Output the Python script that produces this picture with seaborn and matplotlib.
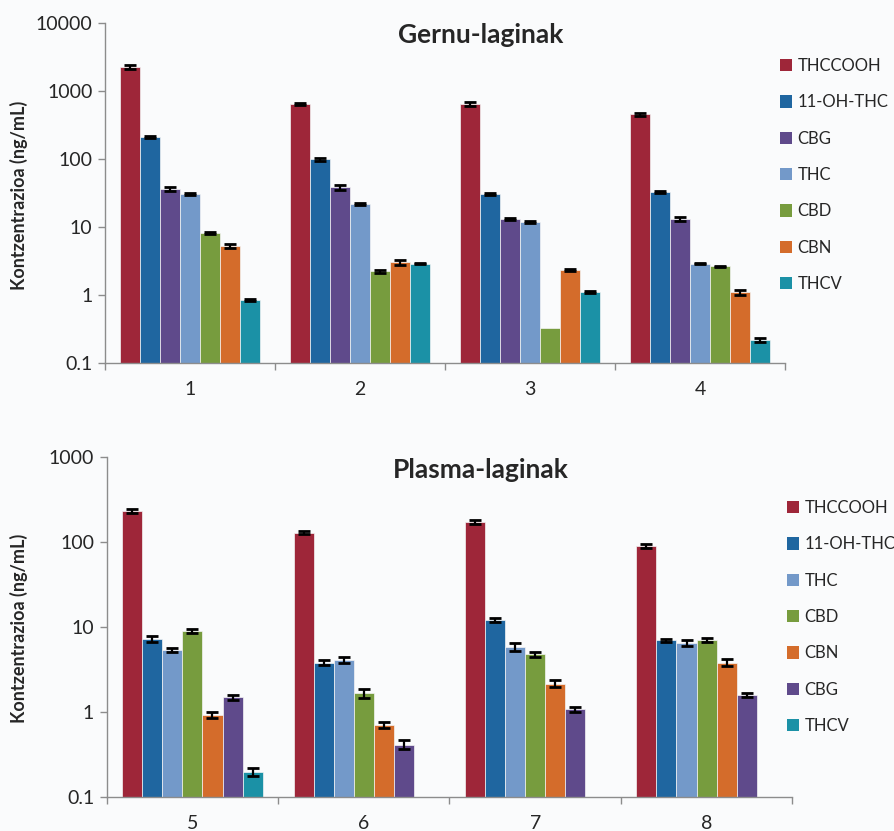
import numpy as np
import pandas as pd
import matplotlib
matplotlib.use("Agg")
import matplotlib.pyplot as plt
import seaborn as sns
from matplotlib.patches import Patch
from matplotlib.ticker import FixedLocator, NullLocator, FixedFormatter

# ---------------- data ----------------
urine_samples = ["1", "2", "3", "4"]
urine_compounds = ["THCCOOH", "11-OH-THC", "CBG", "THC", "CBD", "CBN", "THCV"]
urine_values = {
    "THCCOOH":   [2280, 650, 650, 456],
    "11-OH-THC": [212, 98, 30.6, 32.7],
    "CBG":       [36.6, 38, 13.1, 13.2],
    "THC":       [30.6, 22, 11.7, 2.87],
    "CBD":       [8.1, 2.2, 0.32, 2.61],
    "CBN":       [5.3, 3.0, 2.31, 1.08],
    "THCV":      [0.84, 2.87, 1.10, 0.217],
}
urine_errors = {
    "THCCOOH":   [150, 25, 45, 25],
    "11-OH-THC": [8, 6, 1.0, 0.8],
    "CBG":       [2.5, 3, 0.4, 0.9],
    "THC":       [1.2, 0.8, 0.4, 0.05],
    "CBD":       [0.3, 0.12, 0.0, 0.08],
    "CBN":       [0.35, 0.3, 0.07, 0.08],
    "THCV":      [0.02, 0.08, 0.04, 0.012],
}

plasma_samples = ["5", "6", "7", "8"]
plasma_compounds = ["THCCOOH", "11-OH-THC", "THC", "CBD", "CBN", "CBG", "THCV"]
plasma_values = {
    "THCCOOH":   [228, 128, 171, 89],
    "11-OH-THC": [7.2, 3.77, 12.0, 6.9],
    "THC":       [5.3, 4.06, 5.8, 6.4],
    "CBD":       [8.9, 1.65, 4.73, 7.0],
    "CBN":       [0.91, 0.70, 2.13, 3.77],
    "CBG":       [1.49, 0.41, 1.07, 1.57],
    "THCV":      [0.195, np.nan, np.nan, np.nan],
}
plasma_errors = {
    "THCCOOH":   [12, 5, 10, 5],
    "11-OH-THC": [0.6, 0.25, 0.6, 0.3],
    "THC":       [0.3, 0.3, 0.6, 0.5],
    "CBD":       [0.4, 0.2, 0.3, 0.4],
    "CBN":       [0.07, 0.06, 0.2, 0.35],
    "CBG":       [0.1, 0.05, 0.07, 0.08],
    "THCV":      [0.022, np.nan, np.nan, np.nan],
}

colors = {
    "THCCOOH":   "#9e2639",
    "11-OH-THC": "#1f66a0",
    "CBG":       "#5f4a8b",
    "THC":       "#7399c9",
    "CBD":       "#779c3e",
    "CBN":       "#d46c2b",
    "THCV":      "#1b91a6",
}

BG = "#fafbfc"
sns.set_theme(style="white")
plt.rcParams["font.family"] = ["Lato", "DejaVu Sans"]

fig = plt.figure(figsize=(8.95, 8.31), dpi=100, facecolor=BG)


def make_df(samples, compounds, values, errors):
    rows = []
    for c in compounds:
        for i, s in enumerate(samples):
            v = values[c][i]
            if not np.isnan(v):
                rows.append({"sample": s, "compound": c, "value": v, "err": errors[c][i]})
    return pd.DataFrame(rows)


def draw(ax, samples, compounds, values, errors, ylim, title, title_y, ylabel_y, legend_xy):
    df = make_df(samples, compounds, values, errors)
    sns.barplot(data=df, x="sample", y="value", hue="compound", order=samples,
                hue_order=compounds, palette=colors, width=0.82, ax=ax,
                errorbar=None, saturation=1, edgecolor="#f4f4f4", linewidth=0.5,
                legend=False)
    ax.set_yscale("log")
    # error bars
    for comp, cont in zip(compounds, ax.containers):
        for bar in cont:
            h = bar.get_height()
            if h is None or np.isnan(h) or h <= 0:
                continue
            xc = bar.get_x() + bar.get_width() / 2
            idx = int(round(xc))
            e = errors[comp][idx]
            if e is None or np.isnan(e) or e <= 0:
                continue
            ax.errorbar(xc, h, yerr=e, fmt="none", ecolor="black",
                        elinewidth=1.6, capsize=4, capthick=2, zorder=5)
    ax.set_ylim(*ylim)
    ax.set_xlim(-0.5, len(samples) - 0.5)
    ax.set_facecolor(BG)
    for s in ["top", "right"]:
        ax.spines[s].set_visible(False)
    for s in ["left", "bottom"]:
        ax.spines[s].set_color("#8c8c8c")
        ax.spines[s].set_linewidth(1.0)
    decades = [10.0 ** k for k in range(int(np.log10(ylim[0])), int(np.log10(ylim[1])) + 1)]
    ax.yaxis.set_major_locator(FixedLocator(decades))
    ax.yaxis.set_major_formatter(FixedFormatter([f"{d:g}" for d in decades]))
    ax.yaxis.set_minor_locator(NullLocator())
    ax.tick_params(axis="y", which="major", direction="out", length=5, color="#8c8c8c",
                   width=1, labelsize=14, pad=4, left=True)
    # x: ticks at boundaries, labels at centers
    ax.set_xticks(np.arange(len(samples)))
    ax.set_xticklabels(samples)
    ax.tick_params(axis="x", which="major", length=0, labelsize=14, pad=13)
    ax.set_xticks(np.arange(len(samples) + 1) - 0.5, minor=True)
    ax.tick_params(axis="x", which="minor", direction="out", length=5, color="#8c8c8c",
                   width=1, bottom=True)
    ax.set_xlabel("")
    ax.set_ylabel("")
    fig.text(481 / 895, 1 - title_y / 831, title, ha="center", va="center",
             fontsize=19, fontweight="bold")
    fig.text(19 / 895, 1 - ylabel_y / 831, "Kontzentrazioa (ng/mL)", rotation=90,
             ha="center", va="center", fontsize=13, fontweight="bold")
    handles = [Patch(facecolor=colors[c], edgecolor="none", label=c) for c in compounds]
    fig.legend(handles=handles, loc="upper left",
               bbox_to_anchor=(legend_xy[0] / 895, 1 - legend_xy[1] / 831),
               frameon=False, borderpad=0, borderaxespad=0, handlelength=0.75,
               handleheight=0.75, handletextpad=0.3, labelspacing=1.22, fontsize=12)


ax1 = fig.add_axes([105 / 895, 1 - 362.7 / 831, 680 / 895, 339.7 / 831])
draw(ax1, urine_samples, urine_compounds, urine_values, urine_errors,
     (0.1, 10000), "Gernu-laginak", 35, 195, (780, 58))

ax2 = fig.add_axes([106.7 / 895, 1 - 796.7 / 831, 685.6 / 895, 340 / 831])
draw(ax2, plasma_samples, plasma_compounds, plasma_values, plasma_errors,
     (0.1, 1000), "Plasma-laginak", 470, 628, (787, 500))

fig.savefig("out.png", dpi=100, facecolor=BG)
